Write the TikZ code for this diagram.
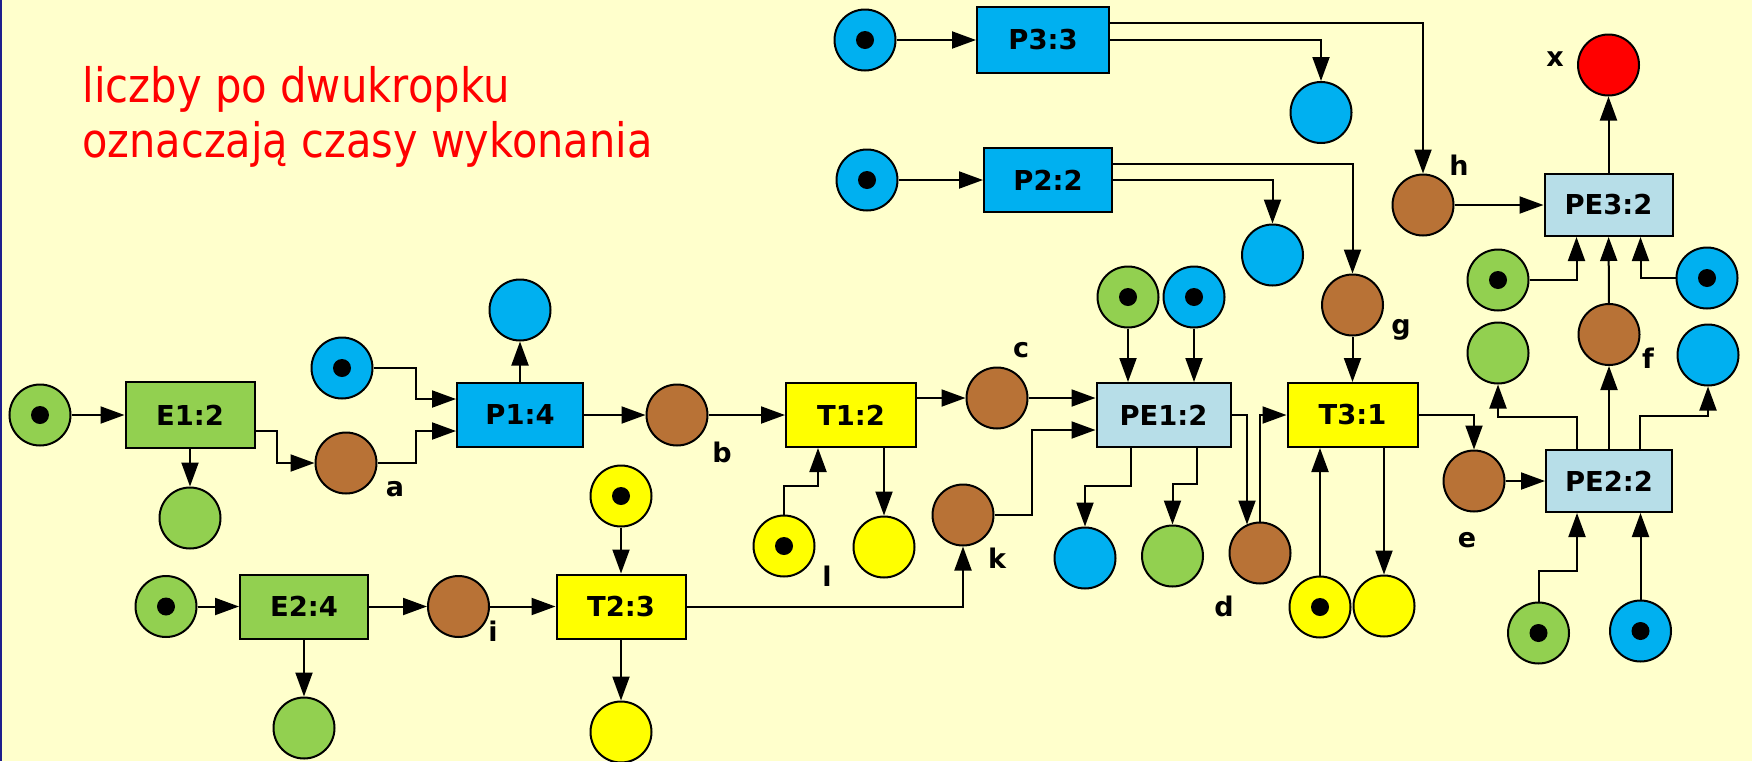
\documentclass[tikz,border=0pt]{standalone}
\usepackage{fontspec}
\setmainfont{DejaVu Sans}
\usetikzlibrary{arrows.meta,calc}
\definecolor{bg}{RGB}{255,255,204}
\definecolor{pgreen}{RGB}{146,208,80}
\definecolor{pblue}{RGB}{0,176,240}
\definecolor{pbrown}{RGB}{184,114,54}
\definecolor{pyellow}{RGB}{255,255,0}
\definecolor{plblue}{RGB}{183,222,232}
\definecolor{pred}{RGB}{255,0,0}
\definecolor{edgeblue}{RGB}{30,30,140}
\begin{document}
\begin{tikzpicture}[x=0.5pt,y=-0.5pt,
  place/.style={circle,draw=black,line width=1pt,minimum size=30.5pt,inner sep=0pt},
  tok/.style={place,path picture={\fill[black] (path picture bounding box.center) circle[radius=4.5pt];}},
  trans/.style={rectangle,draw=black,line width=1pt,minimum width=65pt,minimum height=32pt,inner sep=0pt,font=\fontsize{13.7}{16}\selectfont\bfseries},
  lab/.style={font=\fontsize{13.5}{16}\selectfont\bfseries,inner sep=0pt},
  arr/.style={draw=black,line width=1pt,-{Triangle[length=12pt,width=8.5pt]}},
  title/.style={anchor=base west,inner sep=0pt,text=pred,font=\fontsize{23.75}{28}\selectfont}]
\useasboundingbox (0,0) rectangle (1752,761);
\fill[bg] (0,0) rectangle (1752,761);
\fill[edgeblue] (0,0) rectangle (2,761);

% title
\node[title] (t1) at (82,102) {\resizebox{213.5pt}{\height}{liczby po dwukropku}};
\node[title] (t2) at (82,157) {\resizebox{285pt}{\height}{oznaczają czasy wykonania}};

% transitions
\node[trans,fill=pgreen,minimum width=64.5pt,minimum height=33pt] (E1) at (190,415) {E1:2};
\node[trans,fill=pblue,minimum width=63pt] (P1) at (520,415) {P1:4};
\node[trans,fill=pyellow] (T1) at (851,415) {T1:2};
\node[trans,fill=plblue,minimum width=67pt] (PE1) at (1163.5,415) {PE1:2};
\node[trans,fill=pyellow] (T3) at (1352.5,415) {T3:1};
\node[trans,fill=pblue,minimum width=66pt,minimum height=33pt] (P3) at (1043,40) {P3:3};
\node[trans,fill=pblue,minimum width=64pt] (P2) at (1048,180) {P2:2};
\node[trans,fill=plblue,minimum width=64pt,minimum height=31pt] (PE3) at (1608.5,205) {PE3:2};
\node[trans,fill=plblue,minimum width=63pt,minimum height=31pt] (PE2) at (1609,481) {PE2:2};
\node[trans,fill=pgreen,minimum width=64pt] (E2) at (304,606.5) {E2:4};
\node[trans,fill=pyellow,minimum width=64.5pt] (T2) at (621,606.5) {T2:3};

% places
\node[tok,fill=pgreen] (g0) at (40,415) {};
\node[place,fill=pgreen] (gE1) at (190,518) {};
\node[place,fill=pbrown] (a) at (346,463) {};
\node[tok,fill=pblue] (bP1t) at (342,368) {};
\node[place,fill=pblue] (bP1o) at (520,310) {};
\node[place,fill=pbrown] (b) at (677,415) {};
\node[place,fill=pbrown] (c) at (997,398) {};
\node[tok,fill=pyellow] (l) at (784,546) {};
\node[place,fill=pyellow] (yT1) at (884,547) {};
\node[tok,fill=pyellow] (yT2t) at (621,496) {};
\node[place,fill=pyellow] (yT2o) at (621,732) {};
\node[place,fill=pbrown] (k) at (963,515) {};
\node[tok,fill=pgreen] (gE2t) at (166,606.5) {};
\node[place,fill=pgreen] (gE2o) at (304,728) {};
\node[place,fill=pbrown] (i) at (458.5,606.5) {};
\node[tok,fill=pgreen] (gPE1t) at (1128,297) {};
\node[tok,fill=pblue] (bPE1t) at (1194,297) {};
\node[place,fill=pblue] (bPE1o) at (1085,558) {};
\node[place,fill=pgreen] (gPE1o) at (1172.5,556) {};
\node[place,fill=pbrown] (d) at (1260,553) {};
\node[tok,fill=pyellow] (yT3t) at (1320,607) {};
\node[place,fill=pyellow] (yT3o) at (1384,606) {};
\node[place,fill=pbrown] (g) at (1352.5,305) {};
\node[tok,fill=pblue] (bP3t) at (865,40) {};
\node[place,fill=pblue] (bP3o) at (1321,112.5) {};
\node[tok,fill=pblue] (bP2t) at (867,180) {};
\node[place,fill=pblue] (bP2o) at (1272.5,255) {};
\node[place,fill=pbrown] (h) at (1423,205) {};
\node[place,fill=pred] (xr) at (1608.5,65) {};
\node[tok,fill=pgreen] (gPE3t) at (1498,280) {};
\node[tok,fill=pblue] (bPE3t) at (1707,278) {};
\node[place,fill=pbrown] (f) at (1609,334.5) {};
\node[place,fill=pgreen] (gPE2o) at (1498,353) {};
\node[place,fill=pblue] (bPE2o) at (1708,355) {};
\node[place,fill=pbrown] (e) at (1474,481) {};
\node[tok,fill=pgreen] (gPE2t) at (1538.5,633) {};
\node[tok,fill=pblue] (bPE2t) at (1640.5,631) {};

% labels
\node[lab] (la) at (395,489) {a};
\node[lab] (lb) at (722,452) {b};
\node[lab] (lc) at (1021,350) {c};
\node[lab] (ll) at (827,576) {l};
\node[lab] (lk) at (997,558) {k};
\node[lab] (li) at (493,631) {i};
\node[lab] (ld) at (1224,606) {d};
\node[lab] (lg) at (1401,330) {g};
\node[lab] (lh) at (1459,165) {h};
\node[lab] (lx) at (1555,59) {x};
\node[lab] (lf) at (1648,358) {f};
\node[lab] (le) at (1467,540) {e};

% arcs
\draw[arr] (g0) -- (E1);
\draw[arr] (E1) -- (gE1);
\draw[arr] ($(E1.east)+(0,16)$) -- ++(21,0) |- (a.west);
\draw[arr] (a.east) -- ++(38,0) |- ($(P1.west)+(0,16)$);
\draw[arr] (bP1t.east) -- ++(42,0) |- ($(P1.west)+(0,-16)$);
\draw[arr] (P1) -- (bP1o);
\draw[arr] (P1) -- (b);
\draw[arr] (b) -- (T1);
\draw[arr] (T1.east |- c) -- (c);
\draw[arr] (c) -- (PE1.west |- c);
\draw[arr] (k.east) -- ++(37,0) |- ($(PE1.west)+(0,15)$);
\draw[arr] (l.north) -- ++(0,-29) -| ($(T1.south)+(-33,0)$);
\draw[arr] (T1.south -| yT1) -- (yT1);
\draw[arr] (yT2t) -- (T2);
\draw[arr] (T2) -- (yT2o);
\draw[arr] (gE2t) -- (E2);
\draw[arr] (E2) -- (gE2o);
\draw[arr] (E2) -- (i);
\draw[arr] (i) -- (T2);
\draw[arr] (T2.east) -| (k.south);
\draw[arr] (gPE1t) -- (gPE1t |- PE1.north);
\draw[arr] (bPE1t) -- (bPE1t |- PE1.north);
\draw[arr] ($(PE1.south)+(-33,0)$) -- ++(0,38) -| (bPE1o.north);
\draw[arr] ($(PE1.south)+(33,0)$) -- ++(0,36) -| (gPE1o.north);
\draw[arr] (PE1.east) -| ($(d.north)+(-13,3)$);
\draw[arr] (d.north) |- (T3.west);
\draw[arr] (g) -- (g |- T3.north);
\draw[arr] (yT3t) -- (yT3t |- T3.south);
\draw[arr] (T3.south -| yT3o) -- (yT3o);
\draw[arr] (T3.east) -| (e.north);
\draw[arr] (e) -- (PE2);
\draw[arr] ($(PE2.north)+(-32,0)$) -- ++(0,-32) -| (gPE2o.south);
\draw[arr] (PE2) -- (f);
\draw[arr] ($(PE2.north)+(31,0)$) -- ++(0,-33) -| (bPE2o.south);
\draw[arr] (f) -- (PE3);
\draw[arr] (gPE3t.east) -| ($(PE3.south)+(-32,0)$);
\draw[arr] (bPE3t.west) -| ($(PE3.south)+(32,0)$);
\draw[arr] (h) -- (PE3);
\draw[arr] (PE3) -- (xr);
\draw[arr] (bP3t) -- (P3);
\draw[arr] ($(P3.east)+(0,-17)$) -| (h.north);
\draw[arr] (P3.east) -| (bP3o.north);
\draw[arr] (bP2t) -- (P2);
\draw[arr] ($(P2.east)+(0,-16)$) -| (g.north);
\draw[arr] (P2.east) -| (bP2o.north);
\draw[arr] (gPE2t.north) -- ++(0,-31) -| ($(PE2.south)+(-32,0)$);
\draw[arr] (bPE2t) -- (bPE2t |- PE2.south);
\end{tikzpicture}
\end{document}
